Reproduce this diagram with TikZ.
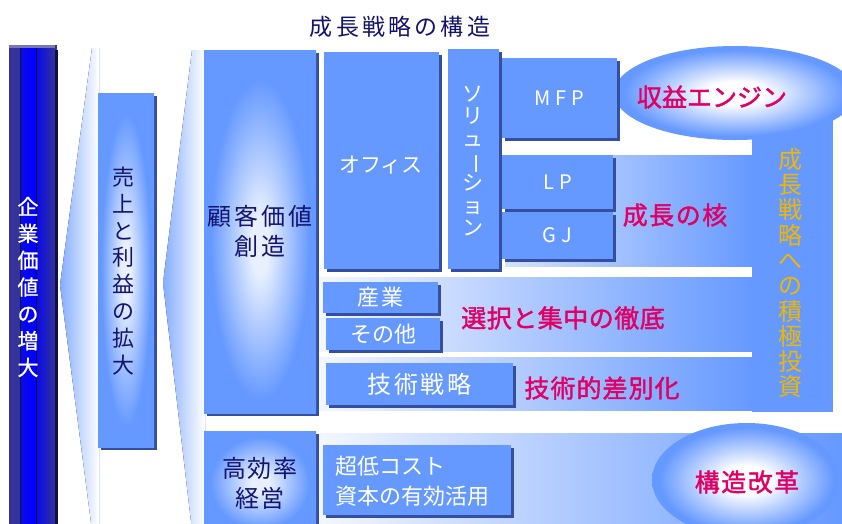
\documentclass[tikz,border=0pt]{standalone}
\usepackage{fontspec}
\usepackage{graphicx}
\setmainfont{Noto Sans CJK JP}
\usetikzlibrary{shadows,shapes.geometric}
\definecolor{mainblue}{RGB}{102,153,255}
\definecolor{shadowblue}{RGB}{52,78,160}
\definecolor{navytxt}{RGB}{20,20,110}
\definecolor{magtxt}{RGB}{225,0,100}
\definecolor{goldtxt}{RGB}{240,182,0}
\definecolor{glowc}{RGB}{232,240,255}
\definecolor{barnavy}{RGB}{51,51,153}
\definecolor{barblue}{RGB}{0,0,255}
\definecolor{barline}{RGB}{15,15,70}
\definecolor{bartop}{RGB}{120,120,180}
\definecolor{bandlight}{RGB}{244,247,255}
\definecolor{bandmid}{RGB}{212,226,255}
\pgfdeclareradialshading{boxglow}{\pgfpointorigin}{color(0bp)=(glowc); color(4bp)=(glowc); color(22bp)=(mainblue); color(50bp)=(mainblue)}
\pgfdeclareradialshading{boxglowlow}{\pgfpoint{0bp}{-2bp}}{color(0bp)=(glowc); color(4bp)=(glowc); color(22bp)=(mainblue); color(50bp)=(mainblue)}
\pgfdeclareradialshading{ellglow}{\pgfpointorigin}{color(0bp)=(white); color(6bp)=(white); color(23bp)=(mainblue); color(50bp)=(mainblue)}
\tikzset{
  bbox/.style={fill=mainblue, inner sep=0pt, outer sep=0pt, anchor=north west, text=white,
    general shadow={fill=shadowblue, shadow xshift=2.5pt, shadow yshift=-2.5pt}},
  glowbox/.style={bbox, shading=boxglow, text=navytxt},
  bandfill/.style={left color=#1, right color=mainblue, draw=none},
  magtext/.style={text=magtxt, inner sep=0pt, font=\fontsize{25}{30}\selectfont\addfontfeatures{FakeBold=1.6,LetterSpace=#1}},
  vtxt/.style={align=center, inner sep=0pt},
  ellnode/.style={ellipse, shading=ellglow, inner sep=0pt, draw=none},
}
\begin{document}
\begin{tikzpicture}[x=1pt,y=-1pt]
\useasboundingbox (0,0) rectangle (842,523);
\clip (0,0) rectangle (842,523);
\fill[white] (0,0) rectangle (842,523);

% wedges
\fill[left color=mainblue!80!white, right color=white] (92,48) -- (60,285) -- (92,530) -- (99,530) -- (99,48) -- cycle;
\fill[left color=mainblue!80!white, right color=white] (192,50) -- (163,283) -- (192,530) -- (205,530) -- (205,50) -- cycle;

% left bar
\fill[barnavy] (9,45) rectangle (57,530);
\fill[left color=barblue!80!barnavy, right color=barblue] (21,48) rectangle (36,530);
\fill[left color=barblue!80!barnavy, right color=barnavy] (37,48) rectangle (55,530);
\fill[barline] (20,46) rectangle (21,530);
\fill[barline] (36,46) rectangle (37,530);
\fill[barline] (55,50) rectangle (58,530);
\fill[bartop] (9,45) rectangle (55,48);
\node[vtxt, text=white, font=\fontsize{21}{26.8}\selectfont\addfontfeatures{FakeBold=0.8}] (kigyo) at (28,287) {企\\業\\価\\値\\の\\増\\大};

% bands
\fill[bandfill=bandmid] (505,155) rectangle (752,266);
\fill[bandfill=bandlight] (318,277) rectangle (752,351);
\fill[bandfill=bandlight] (318,357) rectangle (752,410);
\fill[bandfill=bandlight] (316,433) rectangle (842,530);

% right bar
\fill[mainblue] (752,100) rectangle (833,412);
\node[vtxt, text=goldtxt, font=\fontsize{24}{25.3}\selectfont] (toushi) at (790,273) {成\\長\\戦\\略\\へ\\の\\積\\極\\投\\資};

% ellipses
\node[ellnode, minimum width=242pt, minimum height=94pt] (engine) at (735,93) {};
\node[magtext=0] (enginetxt) at (712,97) {収益エンジン};
\node[ellnode, minimum width=189pt, minimum height=114pt] (kaikaku) at (746.5,480) {};
\node[magtext=6] (kaikakutxt) at (747,482) {構造改革};

% title
\node[text=navytxt, inner sep=0pt, font=\fontsize{23}{28}\selectfont\addfontfeatures{LetterSpace=14}] (title) at (400,27) {成長戦略の構造};

% boxes
\node[glowbox, minimum width=56pt, minimum height=354pt] (uriage) at (98,93) {};
\node[vtxt, text=navytxt, font=\fontsize{22}{26.9}\selectfont] (uriagetxt) at (123,271) {売\\上\\と\\利\\益\\の\\拡\\大};

\node[glowbox, shading=boxglowlow, minimum width=112pt, minimum height=363pt, align=center,
  font=\fontsize{24}{30}\selectfont\addfontfeatures{LetterSpace=12}] (kokyaku) at (204,50) {顧客価値\\創造};
\node[glowbox, minimum width=112pt, minimum height=104pt, align=center,
  font=\fontsize{24}{30}\selectfont\addfontfeatures{LetterSpace=8}] (kouritsu) at (204,431) {高効率\\経営};

\node[bbox, minimum width=115pt, minimum height=217pt] (office) at (324,52) {};
\node[text=white, inner sep=0pt, font=\fontsize{21}{26}\selectfont] (officetxt) at (381,165) {オフィス};

\node[bbox, minimum width=51pt, minimum height=220pt] (solution) at (448,49) {};
\node[vtxt, text=white, font=\fontsize{21}{22.3}\selectfont] (solutiontxt) at (473,161) {ソ\\リ\\ュ\\\rotatebox[origin=c]{-90}{ー}\\シ\\ョ\\ン};

\node[bbox, minimum width=115pt, minimum height=80pt, font=\fontsize{20}{24}\selectfont\addfontfeatures{LetterSpace=25}] (mfp) at (502,58) {MFP};
\node[bbox, minimum width=111pt, minimum height=54pt, font=\fontsize{20}{24}\selectfont\addfontfeatures{LetterSpace=25}] (lp) at (502,155) {LP};
\node[bbox, minimum width=111pt, minimum height=47pt, font=\fontsize{20}{24}\selectfont\addfontfeatures{LetterSpace=25}] (gj) at (502,212) {GJ};
\node[magtext=6] (kaku) at (675,215) {成長の核};

\node[bbox, minimum width=115pt, minimum height=31pt, font=\fontsize{22}{26}\selectfont\addfontfeatures{LetterSpace=6}] (sangyo) at (323,282) {産業};
\node[bbox, minimum width=114pt, minimum height=32pt, font=\fontsize{22}{26}\selectfont] (sonota) at (326,318) {その他};
\node[magtext=2] (senntaku) at (563,318) {選択と集中の徹底};

\node[bbox, minimum width=187pt, minimum height=42pt, font=\fontsize{24}{28}\selectfont\addfontfeatures{LetterSpace=10}] (gijutsu) at (326,363) {技術戦略};
\node[magtext=4] (sabetsu) at (602,388) {技術的差別化};

\node[bbox, minimum width=188pt, minimum height=70pt] (chotei) at (323,445) {};
\node[anchor=west, text=white, inner sep=0pt, align=left, font=\fontsize{22}{30}\selectfont] (choteitxt) at (335,481) {超低コスト\\資本の有効活用};
\end{tikzpicture}
\end{document}
